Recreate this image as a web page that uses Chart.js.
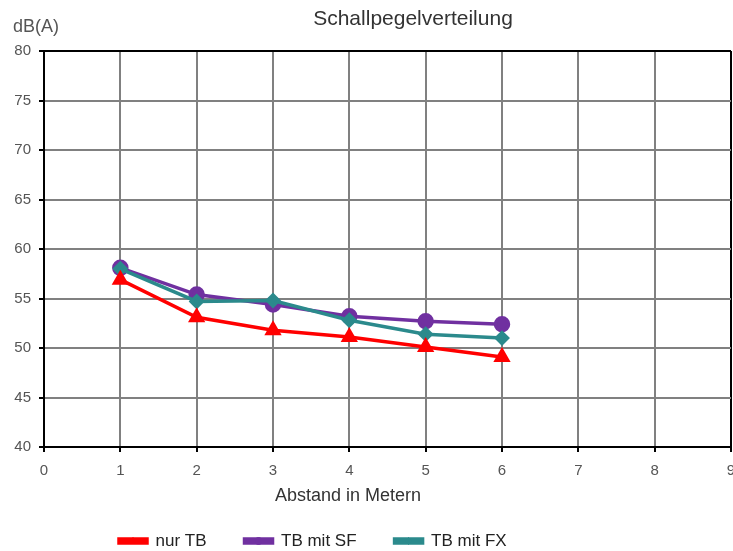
<!DOCTYPE html>
<html>
<head>
<meta charset="utf-8">
<script src="https://cdn.jsdelivr.net/npm/chart.js@4"></script>
<style>
  html, body { margin: 0; padding: 0; background: #fff; overflow: hidden; }
  canvas { display: block; }
</style>
</head>
<body>
<canvas id="myChart" width="733" height="551"></canvas>
<script>
const distances = [1, 2, 3, 4, 5, 6];
const nurTB   = [56.9, 53.1, 51.8, 51.1, 50.1, 49.1];
const tbMitSF = [58.1, 55.4, 54.4, 53.2, 52.7, 52.4];
const tbMitFX = [58.0, 54.7, 54.8, 52.8, 51.4, 51.0];
const seriesNames = ['nur TB', 'TB mit SF', 'TB mit FX'];

const FONT = '"Liberation Sans", Arial, sans-serif';
const PLOT_RIGHT = 731;
const LEGEND_X = 119;
const LEGEND_Y = 541;

function points(values) {
  return distances.map((d, i) => ({x: d, y: values[i]}));
}

// titles drawn as free text (title, y unit, x caption); plot runs to the right edge
const textPlugin = {
  id: 'texts',
  afterLayout(chart) {
    const ca = chart.chartArea;
    const x = chart.scales.x;
    ca.right = PLOT_RIGHT;
    ca.width = ca.right - ca.left;
    x.right = PLOT_RIGHT;
    x.width = x.right - x.left;
    x.configure();
  },
  beforeDraw(chart) {
    const lg = chart.legend;
    if (lg && lg.lineWidths) {
      const pad = lg.options.labels.padding;
      const w = 733;
      lg.left = LEGEND_X - (pad + w - lg.lineWidths[0]) / 2;
      lg.right = lg.left + w;
      lg.top = LEGEND_Y - 8.5 - pad;
    }
  },
  afterDraw(chart) {
    const ctx = chart.ctx;
    ctx.save();
    // small markers on the legend lines
    const lg = chart.legend;
    if (lg && lg.legendHitBoxes && Chart.helpers && Chart.helpers.drawPoint) {
      const pad = lg.options.labels.padding;
      let cx = LEGEND_X;
      lg.legendHitBoxes.forEach((hb, i) => {
        const ds = chart.data.datasets[lg.legendItems[i].datasetIndex];
        ctx.fillStyle = ds.backgroundColor;
        ctx.strokeStyle = ds.borderColor;
        Chart.helpers.drawPoint(ctx, {pointStyle: ds.pointStyle, radius: 3.5, borderWidth: 1, rotation: 0}, cx + 14, LEGEND_Y);
        cx += hb.width + pad;
      });
    }
    ctx.textBaseline = 'middle';
    ctx.textAlign = 'center';
    ctx.fillStyle = '#333';
    ctx.font = '21px ' + FONT;
    ctx.fillText('Schallpegelverteilung', 413, 19);
    ctx.font = '18px ' + FONT;
    ctx.fillText('Abstand in Metern', 348, 496);
    ctx.textAlign = 'left';
    ctx.fillStyle = '#555';
    ctx.font = '18px ' + FONT;
    ctx.fillText('dB(A)', 13, 27);
    ctx.restore();
  }
};

new Chart(document.getElementById('myChart').getContext('2d'), {
  type: 'line',
  data: {
    datasets: [{
      label: seriesNames[0],
      data: points(nurTB),
      borderColor: '#ff0000',
      backgroundColor: '#ff0000',
      borderWidth: 3.5,
      pointStyle: 'triangle',
      pointRadius: 6.5,
      order: 1
    }, {
      label: seriesNames[1],
      data: points(tbMitSF),
      borderColor: '#7030a0',
      backgroundColor: '#7030a0',
      borderWidth: 3.5,
      pointStyle: 'circle',
      pointRadius: 6.5,
      order: 3
    }, {
      label: seriesNames[2],
      data: points(tbMitFX),
      borderColor: '#2b8a8c',
      backgroundColor: '#2b8a8c',
      borderWidth: 3.5,
      pointStyle: 'rectRot',
      pointRadius: 5.5,
      order: 2
    }]
  },
  options: {
    responsive: false,
    animation: false,
    layout: { padding: {top: 51, left: 0, right: 2, bottom: 0} },
    plugins: {
      title: { display: false },
      tooltip: { enabled: false },
      legend: {
        position: 'bottom',
        labels: {
          boxWidth: 28,
          boxHeight: 4,
          padding: 38,
          color: '#222',
          font: { family: FONT, size: 17 },
          sort: (a, b) => a.datasetIndex - b.datasetIndex
        }
      }
    },
    scales: {
      x: {
        type: 'linear',
        min: 0,
        max: 9,
        afterFit: (scale) => { scale.height = 39; },
        ticks: {
          stepSize: 1,
          padding: 10,
          color: '#555',
          font: { family: FONT, size: 15 }
        },
        grid: {
          color: (c) => c.tick && c.tick.value === 9 ? '#000' : '#808080',
          lineWidth: 2,
          tickLength: 5,
          tickColor: '#000'
        },
        border: { color: '#000', width: 2 }
      },
      y: {
        min: 40,
        max: 80,
        afterFit: (scale) => { scale.width = 44; },
        ticks: {
          stepSize: 5,
          padding: 8,
          color: '#555',
          font: { family: FONT, size: 15 }
        },
        grid: {
          color: (c) => c.tick && c.tick.value === 80 ? '#000' : '#808080',
          lineWidth: 2,
          tickLength: 5,
          tickColor: '#000'
        },
        border: { color: '#000', width: 2 }
      }
    }
  },
  plugins: [textPlugin]
});
</script>
</body>
</html>
